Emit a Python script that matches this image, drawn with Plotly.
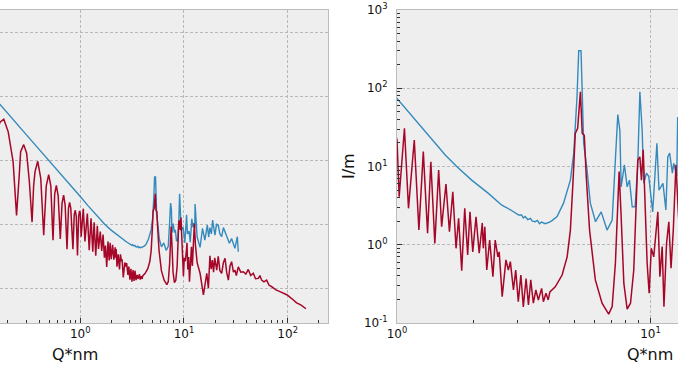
import plotly.graph_objects as go

# ---------------- data ----------------
q_red = [0.155, 0.169, 0.183, 0.202, 0.225, 0.238, 0.243, 0.258, 0.266, 0.285, 0.304, 0.323, 0.343,
         0.355, 0.366, 0.389, 0.416, 0.444, 0.47, 0.496, 0.52, 0.546, 0.567, 0.588, 0.612, 0.642,
         0.667, 0.691, 0.715, 0.745, 0.77, 0.789, 0.81, 0.85, 0.875, 0.895, 0.915, 0.94, 0.965, 0.985,
         1.0, 1.02, 1.07, 1.11, 1.17, 1.22, 1.27, 1.32, 1.36, 1.41, 1.46, 1.50, 1.56, 1.61, 1.66, 1.71,
         1.75, 1.80, 1.85, 1.90,
         1.94, 1.99, 2.05, 2.11, 2.17, 2.19, 2.22, 2.26, 2.32, 2.39, 2.44, 2.50, 2.53, 2.60, 2.69, 2.75,
         2.80, 2.88, 2.94, 3.01, 3.08, 3.15, 3.23, 3.30, 3.37, 3.45, 3.53, 3.61, 3.72, 3.78, 3.87, 3.95,
         4.01,
         4.21, 4.48, 4.69, 4.83, 4.95, 5.05, 5.16, 5.29, 5.38, 5.48, 5.58, 5.75, 6.06, 6.44, 6.84, 7.06,
         7.27, 7.43, 7.52, 7.66, 7.85, 8.09, 8.34, 8.59, 8.81, 8.91, 9.08, 9.21, 9.36, 9.47, 9.70, 9.88,
         10.07, 10.3, 10.57, 10.69, 10.89, 11.12, 11.3, 11.57, 11.81, 12.05, 12.3, 12.6, 12.9, 13.4,
         14.3, 15.4, 16.6, 17.2, 17.8, 18.3, 18.8, 19.3, 19.8, 20.7, 21.4, 22.2, 23.1, 24.0, 24.9, 25.8,
         26.8, 27.8, 28.8, 30.0, 31.0, 32.0, 33.4, 35.3, 37.3, 39.5, 41.7, 44.0, 46.6, 49.0, 52.1, 54.0,
         56.1, 59.0, 62.7, 66.0, 70.1, 77.0, 84.3, 92.0, 99.0, 110.0, 122.0, 135.0, 150.0]
i_red = [7940, 15800, 19100, 7760, 912, 81, 19, 347, 1860, 3090, 1660, 214, 11.7,
         158, 437, 933, 275, 4.6, 158, 355, 158, 3.2, 89, 166, 79, 3.5,
         45, 81, 40, 1.66, 32, 48, 32, 1.66, 20, 27.5, 17.8, 1.07, 17.8, 26.3,
         21.8, 4.1, 30.8, 2.92, 21.8, 1.54, 15.5, 1.40, 11.5, 1.04, 9.0, 1.70, 5.97, 1.47, 4.76, 0.90,
         2.18, 0.466, 2.92, 0.74,
         2.64, 0.81, 2.28, 0.78, 1.9, 0.9, 1.70, 0.475, 1.15, 0.39, 1.15, 0.70, 0.81, 0.217, 0.64, 0.475,
         0.61, 0.264, 0.475, 0.187, 0.41, 0.161, 0.37, 0.17, 0.355, 0.179, 0.264, 0.197, 0.277, 0.187, 0.24, 0.197,
         0.25,
         0.29, 0.41, 0.70, 1.54, 6.7, 26.5, 30.8, 90, 26.5, 25.1, 7.4, 1.54, 0.355, 0.179, 0.130, 0.162,
         0.58, 3.39, 8.6, 2.29, 0.32, 0.15, 0.179, 0.475, 3.39, 12.1, 13.3, 6.7, 16.3, 5.5, 0.58, 0.24,
         0.90, 0.70, 1.54, 2.63, 0.39, 0.95, 0.162, 1.04, 1.97, 0.5, 1.54, 10.5, 2.29, 0.63,
         0.295, 0.062, 0.295, 0.10, 1.03, 0.40, 0.76, 0.32, 0.89, 0.37, 1.0, 0.355, 0.295, 0.63, 0.87, 0.32,
         0.18, 0.5, 0.68, 0.32, 0.37, 0.25, 0.47, 0.32, 0.33, 0.28, 0.39, 0.25, 0.295, 0.2, 0.204, 0.25,
         0.18, 0.16, 0.18, 0.126, 0.112, 0.089, 0.079, 0.071, 0.062, 0.047, 0.035, 0.030, 0.023]

q_blue = [0.15, 0.17, 0.3, 0.5, 0.7, 1.0, 1.18, 1.33, 1.55, 1.72, 1.97, 2.30, 2.59, 2.8, 2.9, 3.02,
          3.1, 3.15, 3.2, 3.28, 3.36, 3.42, 3.51, 3.58, 3.65, 3.72, 3.84, 3.92, 4.0, 4.1, 4.28,
          4.54, 4.83, 4.98, 5.13, 5.21, 5.32, 5.45, 5.62, 5.79, 6.07, 6.39, 6.74, 7.06, 7.27, 7.43,
          7.57, 7.66, 7.89, 8.09, 8.26, 8.47, 8.70, 8.91, 9.08, 9.27, 9.41, 9.64, 9.84, 10.2, 10.6,
          10.8, 11.2, 11.5, 11.7, 11.9, 12.2, 12.35, 12.7, 12.8, 13.4, 14.3, 15.1, 15.9, 16.8, 17.3,
          17.8, 18.4, 18.9, 19.9, 20.6, 21.4, 22.2, 23.1, 24.0, 24.9, 26.0, 27.4, 28.8, 30.0, 31.0,
          32.7, 33.4]
i_blue = [83000, 53700, 6460, 1000, 288, 74, 39, 25, 14, 10, 6.7, 4.5, 3.2, 2.8, 2.6, 2.4,
          2.4, 2.2, 2.3, 2.1, 2.18, 2.0, 1.97, 2.05, 1.86, 1.95, 1.86, 1.9, 1.95, 2.05, 2.29,
          3.4, 6.7, 14.8, 78, 302, 302, 19.8, 9.0, 3.4, 1.97, 2.63, 1.54, 2.07, 11, 46,
          29, 5.5, 10.5, 5.5, 6.7, 3.06, 3.06, 11, 90, 29, 6.1, 8.2, 7.5, 2.63, 19.8,
          5.0, 6.1, 2.78, 13.3, 14.8, 8.2, 11, 7.5, 43, 4.0, 1.91, 7.5, 3.2, 9.5, 4.0,
          7.9, 5.0, 13.6, 4.6, 10, 9.5, 5.0, 4.1, 7.9, 5.9, 4.0, 2.55, 3.6, 2.2, 1.78,
          4.1, 1.39]

major_vals = [1e-2, 1e-1, 1, 10, 100, 1000]
major_text = ["10<sup>-2</sup>", "10<sup>-1</sup>", "10<sup>0</sup>", "10<sup>1</sup>",
              "10<sup>2</sup>", "10<sup>3</sup>"]
left_y_grid = [1e-1, 1e1, 1e3, 1e5, 1e7]
minor_vals = [m * 10 ** e for e in range(-3, 4) for m in range(2, 10)]

BLUE = "#348ABD"
RED = "#A60628"
BG = "#EEEEEE"
SPINE = "#BCBCBC"
GRID = "#B8B8B8"
FONT = "DejaVu Sans"
DASH = "3px,2px"

fig = go.Figure()
for ax in ("", "2"):
    fig.add_trace(go.Scatter(x=q_blue, y=i_blue, mode="lines", line=dict(color=BLUE, width=1.4),
                             xaxis="x" + ax, yaxis="y" + ax, showlegend=False))
    fig.add_trace(go.Scatter(x=q_red, y=i_red, mode="lines", line=dict(color=RED, width=1.5),
                             xaxis="x" + ax, yaxis="y" + ax, showlegend=False))

common_x = dict(type="log", tickmode="array", tickvals=major_vals, ticktext=major_text,
                ticks="inside", ticklen=5, tickcolor="#333", tickwidth=1, automargin=False,
                showline=True, linecolor=SPINE, linewidth=1, mirror=True,
                showgrid=True, gridcolor=GRID, griddash=DASH, gridwidth=0.7,
                zeroline=False, tickfont=dict(family=FONT, size=12, color="#111"),
                minor=dict(tickmode="array", tickvals=minor_vals, ticks="inside", ticklen=3,
                           tickcolor="#333", showgrid=False))

fig.update_layout(
    width=678, height=381,
    margin=dict(l=0, r=0, t=10, b=58, autoexpand=False),
    paper_bgcolor="white", plot_bgcolor=BG,
    font=dict(family=FONT, color="#111"),
    xaxis=dict(domain=[0, 328 / 678], range=[-0.774, 2.389], anchor="y", **common_x),
    yaxis=dict(type="log", domain=[0, 1], range=[-2.084, 7.697], anchor="x", side="right",
               tickmode="array", tickvals=left_y_grid, showticklabels=False, ticks="",
               automargin=False,
               showline=True, linecolor=SPINE, linewidth=1, mirror=False,
               showgrid=True, gridcolor=GRID, griddash=DASH, gridwidth=0.7, zeroline=False),
    xaxis2=dict(domain=[397 / 678, 1], range=[0, 1.1085], anchor="y2", **common_x),
    yaxis2=dict(type="log", domain=[0, 1], range=[-1, 3], anchor="x2", automargin=False,
                tickmode="array", tickvals=major_vals, ticktext=major_text,
                ticks="inside", ticklen=5, tickcolor="#333", tickwidth=1, ticklabelstandoff=6,
                showline=True, linecolor=SPINE, linewidth=1, mirror=False,
                showgrid=True, gridcolor=GRID, griddash=DASH, gridwidth=0.7, zeroline=False,
                tickfont=dict(family=FONT, size=12, color="#111"),
                minor=dict(tickmode="array", tickvals=minor_vals, ticks="inside", ticklen=3,
                           tickcolor="#333", showgrid=False)),
    annotations=[
        dict(text="Q*nm", x=75 / 678, y=-0.102, xref="paper", yref="paper", showarrow=False,
             xanchor="center", yanchor="middle", font=dict(family=FONT, size=16, color="#111")),
        dict(text="Q*nm", x=650 / 678, y=-0.102, xref="paper", yref="paper", showarrow=False,
             xanchor="center", yanchor="middle", font=dict(family=FONT, size=16, color="#111")),
        dict(text="I/m", x=349 / 678, y=0.5016, xref="paper", yref="paper", showarrow=False,
             textangle=-90, xanchor="center", yanchor="middle",
             font=dict(family=FONT, size=16, color="#111")),
    ],
)

fig.write_html("out.html", config={"displayModeBar": False},
               post_script="document.body.style.margin='0';")
